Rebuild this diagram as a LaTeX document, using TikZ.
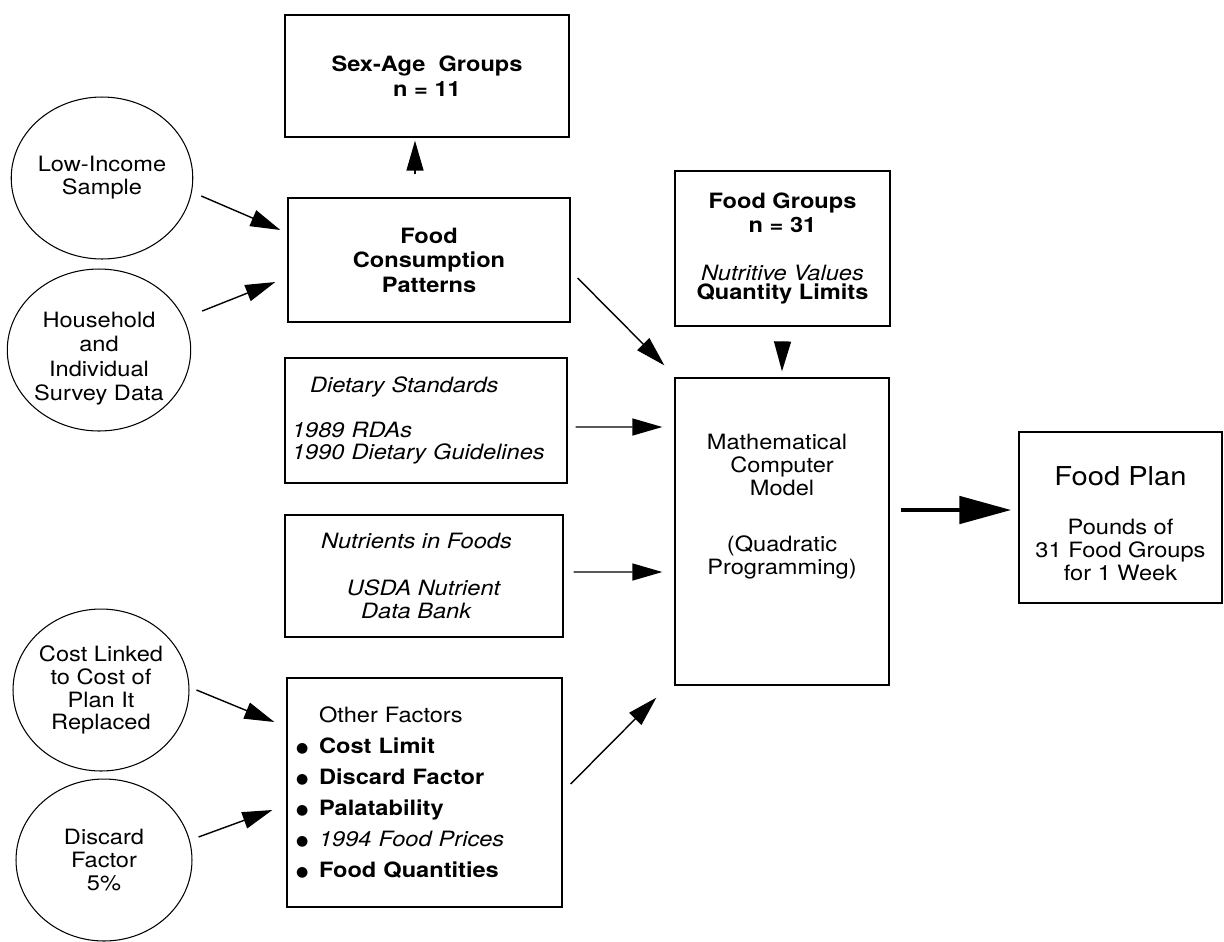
\documentclass[tikz,border=0pt]{standalone}
\usepackage{fontspec}
\setmainfont[FakeStretch=1.12]{TeX Gyre Heros}
\newfontfamily\symfont{DejaVu Sans}
\usetikzlibrary{shapes.geometric,arrows.meta}
\newcommand{\dotitem}{\makebox[0.46cm][l]{\raisebox{0.6pt}{\symfont\fontsize{8}{8}\selectfont ●}}}

\begin{document}
\begin{tikzpicture}
  [x=0.02cm,y=-0.02cm,
   every node/.style={font=\fontsize{12}{13}\selectfont},
   plainbox/.style={draw,line width=0.75pt,align=center,inner sep=0pt},
   src/.style={draw,ellipse,line width=0.6pt,align=center,inner sep=0pt,
     minimum width=3.52cm,minimum height=3.24cm},
   arr/.style={-{Triangle[length=0.6cm,width=0.34cm]},line width=0.8pt},
   bigarr/.style={-{Triangle[length=1.04cm,width=0.54cm]},line width=2.8pt}]
  \useasboundingbox (0,0) rectangle (1224,941);

  % sources
  \node[src] (lowinc) at (102,178) {Low-Income\\Sample};
  \node[src] (household) at (99,350)
    {\rule{0pt}{18.5pt}Household\\[1pt]and\\[1pt]Individual\\[1pt]Survey Data};
  \node[src] (cost) at (101,690) {Cost Linked\\to Cost of\\Plan It\\Replaced};
  \node[src] (discard) at (104,860) {Discard\\Factor\\5\%};

  % inputs
  \node[plainbox,minimum width=5.68cm,minimum height=2.44cm] (sexage) at (427,76)
    {\textbf{Sex-Age~ Groups}\\[1pt]\textbf{n = 11}};
  \node[plainbox,minimum width=5.64cm,minimum height=2.48cm] (fcp) at (429,260)
    {\textbf{Food}\\[1pt]\textbf{Consumption}\\[1pt]\textbf{Patterns}};
  \node[plainbox,align=left,text width=5.36cm,inner xsep=0.14cm,
    minimum width=5.64cm,minimum height=2.5cm] (diet) at (426,420.5)
    {\hspace*{0.36cm}\textit{Dietary Standards}\\[12.5pt]\textit{1989 RDAs}\\\textit{1990 Dietary Guidelines}};
  \node[plainbox,minimum width=5.56cm,minimum height=2.44cm] (nutr) at (424,576)
    {\textit{Nutrients in Foods}\hspace*{0.3cm}\\[14pt]\textit{USDA Nutrient}\hspace*{0.3cm}\\
     \textit{Data Bank}\hspace*{0.3cm}};
  \node[plainbox,align=left,text width=5.14cm,inner xsep=0.18cm,
    minimum width=5.5cm,minimum height=4.58cm,
    font=\fontsize{12}{17.6}\selectfont] (other) at (424.5,792.5)
    {\hspace*{0.46cm}Other Factors\\\dotitem\textbf{Cost Limit}\\\dotitem\textbf{Discard Factor}\\
     \dotitem\textbf{Palatability}\\\dotitem\textit{1994 Food Prices}\\\dotitem\textbf{Food Quantities}};
  \node[plainbox,minimum width=4.3cm,minimum height=3.1cm] (fg) at (782.5,248.5)
    {\textbf{Food Groups}\\[1pt]\textbf{n = 31}\hspace*{0.3cm}\\[14pt]\textit{Nutritive Values}\\[-2pt]\textbf{Quantity Limits}};

  % model and result
  \node[plainbox,minimum width=4.28cm,minimum height=6.14cm] (math) at (782,531.5)
    {Mathematical\hspace*{0.2cm}\\Computer\hspace*{0.2cm}\\Model\hspace*{0.2cm}\\[19pt]
     (Quadratic\hspace*{0.2cm}\\Programming)\hspace*{0.2cm}\\[18pt]\mbox{}};
  \node[plainbox,minimum width=4.06cm,minimum height=3.42cm] (plan) at (1120.5,517.5)
    {\rule{0pt}{17.5pt}{\fontsize{14.8}{16}\selectfont Food Plan}\\[15pt]Pounds of\\31 Food Groups\\for 1 Week};

  \foreach \from/\fs/\to/\ts in {lowinc.east/{8,18}/fcp.west/{-7,-30},
      household.east/{11,-39}/fcp.west/{-12,22},
      cost.east/{7,0}/other.west/{-12,-70.5},
      discard.east/{6,-23}/other.west/{-14,17.5},
      fcp.north/{-14,-23}/sexage.south/{-12,3},
      fcp.east/{7,18}/math.north west/{-10,-12},
      diet.east/{8,6.5}/math.west/{-12,-104.5},
      nutr.east/{10,-4}/math.west/{-12,40.5},
      other.east/{8,-8.5}/math.south west/{-18,12},
      fg.south/{0,16}/math.north/{0,-6}}
    \draw[arr] ([shift={(\fs)}]\from) -- ([shift={(\ts)}]\to);

  \draw[bigarr] ([shift={(11,-21.5)}]math.east) -- ([shift={(-7,-7.5)}]plan.west);
\end{tikzpicture}
\end{document}
